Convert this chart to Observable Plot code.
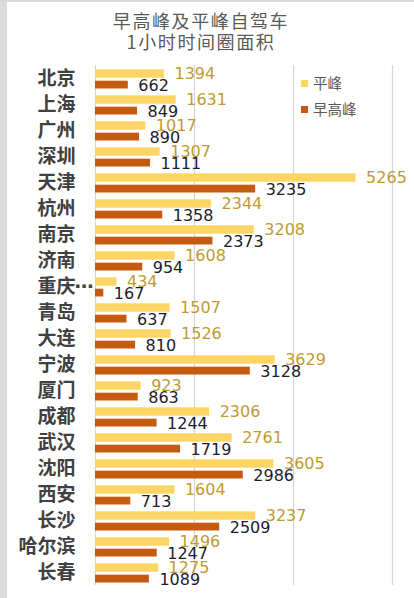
<!DOCTYPE html>
<html><head><meta charset="utf-8">
<script src="https://cdn.jsdelivr.net/npm/d3@7"></script>
<script src="https://cdn.jsdelivr.net/npm/@observablehq/plot@0.6"></script>
<style>
html,body{margin:0;padding:0;background:#fff;width:414px;height:598px;overflow:hidden;}
#wrap{position:relative;width:414px;height:598px;}
.stripL{position:absolute;left:0;top:0;width:7px;height:598px;background:#dcdcdc;}
.stripT{position:absolute;left:0;top:0;width:414px;height:2px;background:#d9d9d9;}
#chart{position:absolute;left:0;top:0;}
.title{position:absolute;left:0;width:402px;text-align:center;font-family:"Noto Sans CJK SC",sans-serif;font-size:18px;color:#595959;letter-spacing:1.6px;line-height:22px;}
.leg{position:absolute;left:301px;font-family:"Noto Sans CJK SC",sans-serif;font-size:14.5px;color:#595959;line-height:16px;display:flex;align-items:center;}
.leg span.sw{display:inline-block;width:7px;height:7px;margin-right:5px;}
</style></head>
<body>
<div id="wrap">
<div class="stripL"></div><div class="stripT"></div>
<div id="chart"></div>
<div class="title" style="top:9px">早高峰及平峰自驾车</div>
<div class="title" style="top:30px">1小时时间圈面积</div>
<div class="leg" style="top:75px"><span class="sw" style="background:#FED565"></span>平峰</div>
<div class="leg" style="top:101px"><span class="sw" style="background:#C55A11"></span>早高峰</div>
</div>
<script>
const cities = ["北京","上海","广州","深圳","天津","杭州","南京","济南","重庆…","青岛","大连","宁波","厦门","成都","武汉","沈阳","西安","长沙","哈尔滨","长春"];
const offPeak = [1394,1631,1017,1307,5265,2344,3208,1608,434,1507,1526,3629,923,2306,2761,3605,1604,3237,1496,1275];
const morningPeak = [662,849,890,1111,3235,1358,2373,954,167,637,810,3128,863,1244,1719,2986,713,2509,1247,1089];
const gridTicks = [0,2000,4000,6000];

const yellow = "#FED565", orange = "#C55A11";
const offData = cities.map((c,i)=>({city:c, v:offPeak[i]}));
const peakData = cities.map((c,i)=>({city:c, v:morningPeak[i]}));

const chart = Plot.plot({
  width: 414, height: 598,
  marginTop: 65, marginBottom: 13, marginLeft: 95, marginRight: 22,
  style: {fontFamily: "'DejaVu Sans','Noto Sans CJK SC',sans-serif", background: "transparent"},
  x: {domain: [0,6000], axis: null},
  y: {domain: cities, padding: 0, axis: null},
  marks: [
    Plot.ruleX(gridTicks, {stroke: "#d6d6d6", strokeWidth: 1.2}),
    Plot.barX(offData, {x: "v", y: "city", fill: yellow, insetTop: 4.3, insetBottom: 13.3}),
    Plot.barX(peakData, {x: "v", y: "city", fill: orange, insetTop: 15.7, insetBottom: 2.5}),
    Plot.text(offData, {x: "v", y: "city", text: d => String(d.v), dx: 10, dy: -4.5, textAnchor: "start", fill: "#BF9A32", fontSize: 16}),
    Plot.text(peakData, {x: "v", y: "city", text: d => String(d.v), dx: 10, dy: 7, textAnchor: "start", fill: "#1c1c2c", fontSize: 16}),
    Plot.axisY({tickSize: 0, tickPadding: 20, fontSize: 19, fontWeight: "bold", color: "#404040", label: null, fontFamily: "'Noto Sans CJK SC',sans-serif", tickFormat: d => d.replace("…","")}),
    Plot.text(cities.filter(d => d.endsWith("…")), {y: d => d, frameAnchor: "left", dx: -21, textAnchor: "start", text: () => "⋯", fontSize: 19, fontWeight: "bold", fill: "#404040"})
  ]
});
document.getElementById("chart").appendChild(chart);
</script>
</body></html>
